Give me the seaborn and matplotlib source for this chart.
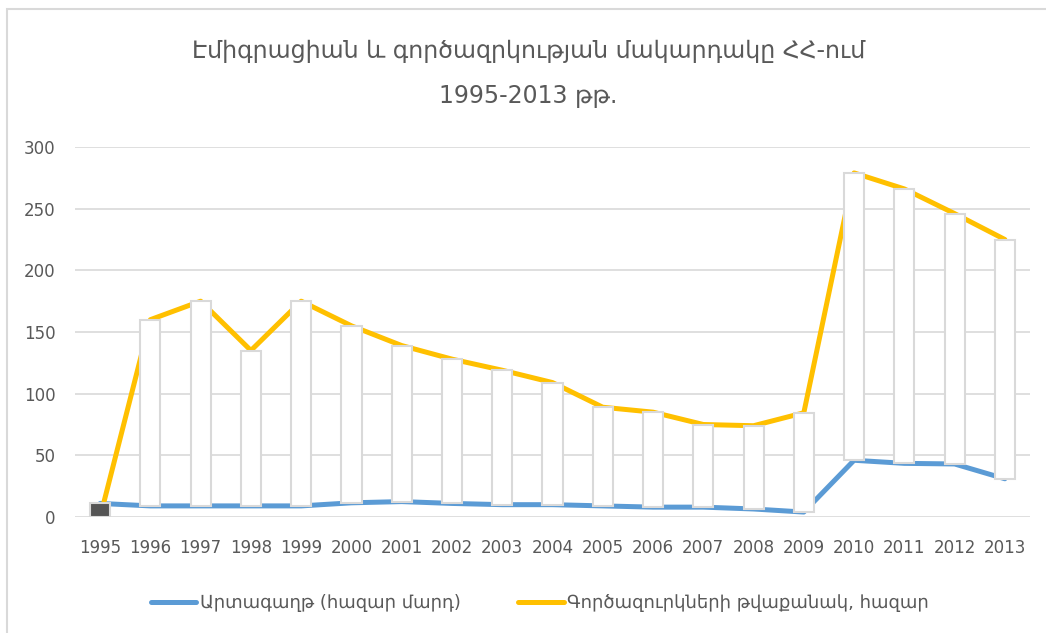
import numpy as np
import pandas as pd
import matplotlib
matplotlib.use('Agg')
import matplotlib.pyplot as plt
from matplotlib.patches import Rectangle
import seaborn as sns

years = list(range(1995, 2014))
emigration = [11, 9, 9, 9, 9, 11.5, 12.5, 11, 10, 10, 9, 8, 8, 6.5, 4, 46, 43.5, 43, 31]
unemployed = [0, 160, 175, 135, 175, 155, 139, 128, 119, 109, 89, 85, 75, 74, 84.5, 279, 266, 246, 225]

label_emig = 'Արտագաղթ (հազար մարդ)'
label_unemp = 'Գործազուրկների թվաքանակ, հազար'
title = 'Էմիգրացիան և գործազրկության մակարդակը ՀՀ-ում\n1995-2013 թթ.'

blue = '#5B9BD5'
yellow = '#FFC000'
grey = '#595959'
light = '#D9D9D9'

sns.set_style('white')
plt.rcParams['font.family'] = ['DejaVu Sans']

df = pd.DataFrame({
    'year': years * 2,
    'value': emigration + unemployed,
    'series': [label_emig] * len(years) + [label_unemp] * len(years),
})

fig = plt.figure(figsize=(10.46, 6.33), dpi=100)
ax = fig.add_axes([75 / 1046, 1 - 517 / 633, (1030 - 75) / 1046, (517 - 147) / 633])

sns.lineplot(data=df, x='year', y='value', hue='series',
             palette={label_emig: blue, label_unemp: yellow},
             linewidth=3.6, ax=ax, zorder=2)

# up/down bars between the two series
lo = np.minimum(emigration, unemployed)
hi = np.maximum(emigration, unemployed)
colors = ['white' if u >= e else '#555555' for e, u in zip(emigration, unemployed)]
ax.bar(years, hi - lo, bottom=lo, width=0.4, color=colors,
       edgecolor=light, linewidth=1.5, zorder=3)

ax.set_xlim(1994.5, 2013.5)
ax.set_ylim(0, 300)
ax.set_yticks(range(0, 301, 50))
ax.set_xticks(years)
ax.set_xticklabels([str(y) for y in years])
ax.set_xlabel('')
ax.set_ylabel('')
ax.grid(axis='y', color=light, linewidth=1.2)
ax.set_axisbelow(True)
for s in ax.spines.values():
    s.set_visible(False)
ax.tick_params(axis='both', length=0, labelsize=12, colors=grey)
ax.tick_params(axis='y', pad=14)
ax.tick_params(axis='x', pad=16)

handles, labels = ax.get_legend_handles_labels()
ax.legend(handles, labels, loc='center', bbox_to_anchor=(540 / 1046, 1 - 603 / 633),
          bbox_transform=fig.transFigure, ncol=2, frameon=False, fontsize=13,
          labelcolor=grey, handlelength=2.5, handletextpad=0.2, columnspacing=3.2)

fig.text(0.505, 1 - 73.5 / 633, title, ha='center', va='center',
         fontsize=17, color=grey, linespacing=2.1)

fig.patches.append(Rectangle((7 / 1046, -0.1), 1.2, 1 - 9 / 633 + 0.1,
                             transform=fig.transFigure, fill=False,
                             edgecolor=light, linewidth=1.5))

fig.savefig('out.png', dpi=100)
